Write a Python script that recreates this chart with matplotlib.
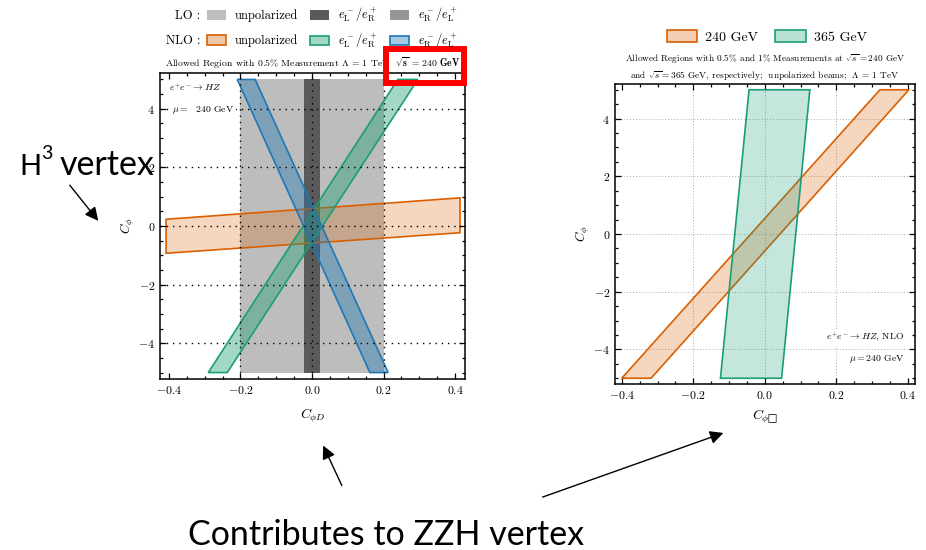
import matplotlib
matplotlib.use('Agg')
import matplotlib.pyplot as plt
from matplotlib.patches import Patch, Rectangle, FancyArrowPatch
from matplotlib.legend_handler import HandlerPatch
from matplotlib.ticker import MultipleLocator

plt.rcParams.update({
    'font.family': 'serif',
    'font.serif': ['cmr10'],
    'mathtext.fontset': 'cm',
    'axes.formatter.use_mathtext': True,
    'axes.unicode_minus': True,
})

# LO bands: only C_phiD is constrained, flat in C_phi
lo_unpol_band = [-0.20, 0.20]
lo_LR_band = [-0.022, 0.022]
cphi_range = [-5.0, 5.0]

# NLO allowed regions at 240 GeV, polygon corners (C_phiD, C_phi)
nlo_unpol_cphid = [-0.408, 0.414, 0.414, -0.408]
nlo_unpol_cphi = [-0.93, -0.23, 0.96, 0.23]
nlo_LR_cphid = [-0.290, -0.237, 0.296, 0.240]
nlo_LR_cphi = [-5.0, -5.0, 5.0, 5.0]
nlo_RL_cphid = [-0.209, -0.159, 0.213, 0.162]
nlo_RL_cphi = [5.0, 5.0, -5.0, -5.0]

# NLO allowed regions in (C_phiBox, C_phi), unpolarized, two energies
e240_cphibox = [-0.400, -0.318, 0.403, 0.322]
e240_cphi = [-5.0, -5.0, 5.0, 5.0]
e365_cphibox = [-0.124, 0.047, 0.126, -0.044]
e365_cphi = [-5.0, -5.0, 5.0, 5.0]

grid_x = [-0.2, 0.0, 0.2]
grid_y = [-4, -2, 0, 2, 4]

ORANGE = '#d95f02'
GREEN = '#1b9e77'
BLUE = '#1f78b4'
LO_LIGHT = '#bdbdbd'
LO_DARK = '#5a5a5a'
LO_MID = '#969696'


def style_axes(ax, grid_kw):
    ax.xaxis.set_major_locator(MultipleLocator(0.2))
    ax.xaxis.set_minor_locator(MultipleLocator(0.05))
    ax.yaxis.set_major_locator(MultipleLocator(2))
    ax.yaxis.set_minor_locator(MultipleLocator(0.5))
    ax.tick_params(which='both', direction='in', top=True, right=True,
                   labelsize=8.5, width=0.9)
    ax.tick_params(which='major', length=4.5)
    ax.tick_params(which='minor', length=2.5)
    for s in ax.spines.values():
        s.set_linewidth(1.1)
    for gx in grid_x:
        ax.axvline(gx, **grid_kw)
    for gy in grid_y:
        ax.axhline(gy, **grid_kw)


def small_patch(legend, orig_handle, xdescent, ydescent, width, height, fontsize):
    # keep the swatch short even though the row is tall enough for sub/superscripts
    ph = 0.75 * fontsize
    return Rectangle((-xdescent, -ydescent + (height - ph) / 2), width, ph)


def fig_xy(px, py):
    # pixel position (from top-left) to figure fraction
    return px / 926, 1 - py / 550


fig = plt.figure(figsize=(9.26, 5.5), dpi=100)

# ---- left panel: C_phiD vs C_phi ----
ax1 = fig.add_axes([0.1728, 0.3109, 0.3294, 0.5564])
ax1.fill_betweenx(cphi_range, lo_unpol_band[0], lo_unpol_band[1], color=LO_LIGHT, lw=0)
ax1.fill_betweenx(cphi_range, lo_LR_band[0], lo_LR_band[1], color=LO_DARK, lw=0)
ax1.fill(nlo_unpol_cphid, nlo_unpol_cphi, fc=(0.851, 0.373, 0.008, 0.25), ec=ORANGE, lw=1.2)
ax1.fill(nlo_LR_cphid, nlo_LR_cphi, fc=(0.106, 0.620, 0.467, 0.4), ec=GREEN, lw=1.2)
ax1.fill(nlo_RL_cphid, nlo_RL_cphi, fc=(0.122, 0.471, 0.706, 0.4), ec=BLUE, lw=1.2)
ax1.set_xlim(-0.425, 0.428)
ax1.set_ylim(-5.22, 5.22)
style_axes(ax1, dict(ls=(0, (1, 3.5)), color='black', lw=1.0, zorder=3))
ax1.set_xlabel(r'$C_{\phi D}$', fontsize=10, labelpad=8)
ax1.set_ylabel(r'$C_{\phi}$', fontsize=9.5, labelpad=1)
ax1.set_title(r'Allowed Region with 0.5% Measurement $\Lambda$ = 1 TeV  '
              r'$\sqrt{\mathbf{s}}\,\mathbf{=\,240\ GeV}$', fontsize=7, pad=4)
ax1.text(0.03, 0.955, r'$e^{+}e^{-}\rightarrow HZ$', transform=ax1.transAxes,
         fontsize=7, va='center')
ax1.text(0.04, 0.88, r'$\mu =$  240 GeV', transform=ax1.transAxes, fontsize=7,
         va='center', zorder=5, bbox=dict(fc='white', ec='none', pad=1))

lo_handles = [Patch(fc=LO_LIGHT, ec='none'), Patch(fc=LO_DARK, ec='none'),
              Patch(fc=LO_MID, ec='none')]
nlo_handles = [Patch(fc=(0.851, 0.373, 0.008, 0.35), ec=ORANGE, lw=1.2),
               Patch(fc=(0.106, 0.620, 0.467, 0.4), ec=GREEN, lw=1.2),
               Patch(fc=(0.122, 0.471, 0.706, 0.4), ec=BLUE, lw=1.2)]
pol_labels = ['unpolarized', r'$e^-_{\rm L}/e^+_{\rm R}$', r'$e^-_{\rm R}/e^+_{\rm L}$']
handles, labels = [], []
for h_lo, h_nlo, lab in zip(lo_handles, nlo_handles, pol_labels):
    handles += [h_lo, h_nlo]
    labels += [lab, lab]
fig.legend(handles, labels, ncol=3, loc='upper left', bbox_to_anchor=fig_xy(207, 6),
           frameon=False, fontsize=9, handlelength=1.5, handleheight=1.8,
           handletextpad=0.7, columnspacing=1.0, labelspacing=0.6,
           borderpad=0, borderaxespad=0,
           handler_map={Patch: HandlerPatch(patch_func=small_patch)})
fig.text(*fig_xy(200, 16), 'LO :', fontsize=9, ha='right', va='center')
fig.text(*fig_xy(200, 41), 'NLO :', fontsize=9, ha='right', va='center')

# ---- right panel: C_phiBox vs C_phi ----
ax2 = fig.add_axes([0.6641, 0.3018, 0.3240, 0.5455])
ax2.fill(e240_cphibox, e240_cphi, fc=(0.851, 0.373, 0.008, 0.25), ec=ORANGE, lw=1.2, zorder=2)
ax2.fill(e365_cphibox, e365_cphi, fc=(0.106, 0.620, 0.467, 0.25), ec=GREEN, lw=1.2, zorder=2)
ax2.set_xlim(-0.419, 0.42)
ax2.set_ylim(-5.2, 5.2)
style_axes(ax2, dict(ls=(0, (1, 2)), color='#aaaaaa', lw=0.7, zorder=1))
ax2.set_xlabel('$C_{\\phi\u25a1}$', fontsize=10, labelpad=5)
ax2.set_ylabel(r'$C_{\phi}$', fontsize=9.5, labelpad=1)
ax2.set_title('Allowed Regions with 0.5% and 1% Measurements at $\\sqrt{s}=240$ GeV\n'
              'and $\\sqrt{s}=365$ GeV, respectively;  unpolarized beams;  $\\Lambda$ = 1 TeV',
              fontsize=6.7, pad=4, linespacing=1.5)
ax2.text(0.965, 0.155, r'$e^{+}e^{-}\rightarrow HZ$, NLO', transform=ax2.transAxes,
         fontsize=7, ha='right', va='center', zorder=5,
         bbox=dict(fc='white', ec='none', pad=1))
ax2.text(0.965, 0.085, r'$\mu = 240$ GeV', transform=ax2.transAxes, fontsize=7,
         ha='right', va='center')
fig.legend([Patch(fc=(0.851, 0.373, 0.008, 0.3), ec=ORANGE, lw=1.2),
            Patch(fc=(0.106, 0.620, 0.467, 0.3), ec=GREEN, lw=1.2)],
           ['240 GeV', '365 GeV'], ncol=2, loc='center', bbox_to_anchor=(0.828, 0.933),
           frameon=False, fontsize=10, handlelength=2.2, handleheight=0.9,
           handletextpad=0.6, columnspacing=1.2)

# highlight box around the energy in the left title
fig.patches.append(Rectangle(fig_xy(386, 83), 78 / 926, 34 / 550,
                             transform=fig.transFigure, fill=False, ec='red', lw=4.3))

# slide annotations
fig.text(*fig_xy(19, 175), 'H', family='Lato', fontsize=21, va='baseline')
fig.text(*fig_xy(41, 159), '3', family='Lato', fontsize=14, va='baseline')
fig.text(*fig_xy(60, 175), 'vertex', family='Lato', fontsize=24.5, va='baseline')
fig.text(*fig_xy(386, 545), 'Contributes to ZZH vertex', family='Lato', fontsize=24.5,
         ha='center', va='baseline')
for start, end in [((68, 183), (100, 223)), ((343, 488), (322, 443)),
                   ((540, 498), (726, 432))]:
    fig.patches.append(FancyArrowPatch(fig_xy(*start), fig_xy(*end),
                                       transform=fig.transFigure, arrowstyle='-|>',
                                       mutation_scale=20, lw=1, color='black'))

fig.savefig('out.png', dpi=100)
